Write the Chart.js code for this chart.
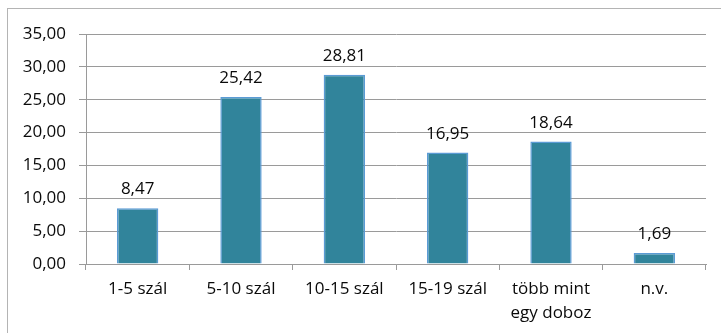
<!DOCTYPE html>
<html>
<head>
<meta charset="utf-8">
<script src="https://cdn.jsdelivr.net/npm/chart.js@4"></script>
<style>
  html, body { margin: 0; padding: 0; background: #fff; }
  #wrap { width: 721px; height: 333px; position: relative; }
</style>
</head>
<body>
<div id="wrap"><canvas id="chart" width="721" height="333"></canvas></div>
<script>
const categories = ["1-5 szál", "5-10 szál", "10-15 szál", "15-19 szál", ["több mint", "egy doboz"], "n.v."];
const values = [8.47, 25.42, 28.81, 16.95, 18.64, 1.69];
const yTicks = [0, 5, 10, 15, 20, 25, 30, 35];

const fmt = (v) => v.toFixed(2).replace(".", ",");
const FONT = "'Open Sans', sans-serif";

// outer frame of the chart object
const frame = {
  id: "frame",
  beforeDraw(chart) {
    const ctx = chart.ctx;
    ctx.save();
    ctx.strokeStyle = "#b4b4b4";
    ctx.lineWidth = 1;
    ctx.strokeRect(7.5, 8.5, 760, 400);
    ctx.restore();
  },
};

// value labels above the bars
const barLabels = {
  id: "barLabels",
  afterDatasetsDraw(chart) {
    const ctx = chart.ctx;
    const meta = chart.getDatasetMeta(0);
    ctx.save();
    ctx.font = "17px " + FONT;
    ctx.fillStyle = "#0a0a0a";
    ctx.textAlign = "center";
    ctx.textBaseline = "alphabetic";
    meta.data.forEach((bar, i) => {
      ctx.fillText(fmt(values[i]), bar.x, bar.y - 14);
    });
    ctx.restore();
  },
};

new Chart(document.getElementById("chart"), {
  type: "bar",
  data: {
    labels: categories,
    datasets: [{
      data: values,
      backgroundColor: "#31849b",
      borderColor: "#5b9bd5",
      borderWidth: 1.5,
      barPercentage: 0.4,
      categoryPercentage: 1,
    }],
  },
  options: {
    responsive: false,
    animation: false,
    layout: { padding: { top: 34, right: 15, bottom: 0, left: 0 } },
    plugins: {
      legend: { display: false },
      tooltip: { enabled: false },
      title: { display: false },
    },
    scales: {
      x: {
        offset: true,
        grid: {
          offset: true,
          drawOnChartArea: false,
          drawTicks: true,
          tickLength: 6,
          color: "#9a9a9a",
        },
        border: { color: "#9a9a9a", width: 1 },
        ticks: {
          color: "#0a0a0a",
          font: { family: FONT, size: 17, lineHeight: 1.42 },
          padding: 7,
          maxRotation: 0,
          autoSkip: false,
        },
        afterFit(s) { s.height = 69; },
      },
      y: {
        min: 0,
        max: 35,
        afterBuildTicks(s) { s.ticks = yTicks.map((v) => ({ value: v })); },
        grid: {
          color: "#9a9a9a",
          drawTicks: true,
          tickLength: 7,
        },
        border: { color: "#9a9a9a", width: 1 },
        ticks: {
          color: "#0a0a0a",
          font: { family: FONT, size: 17 },
          padding: 13,
          callback: (v) => fmt(v),
        },
        afterFit(s) { s.width = 86; },
      },
    },
  },
  plugins: [frame, barLabels],
});
</script>
</body>
</html>
